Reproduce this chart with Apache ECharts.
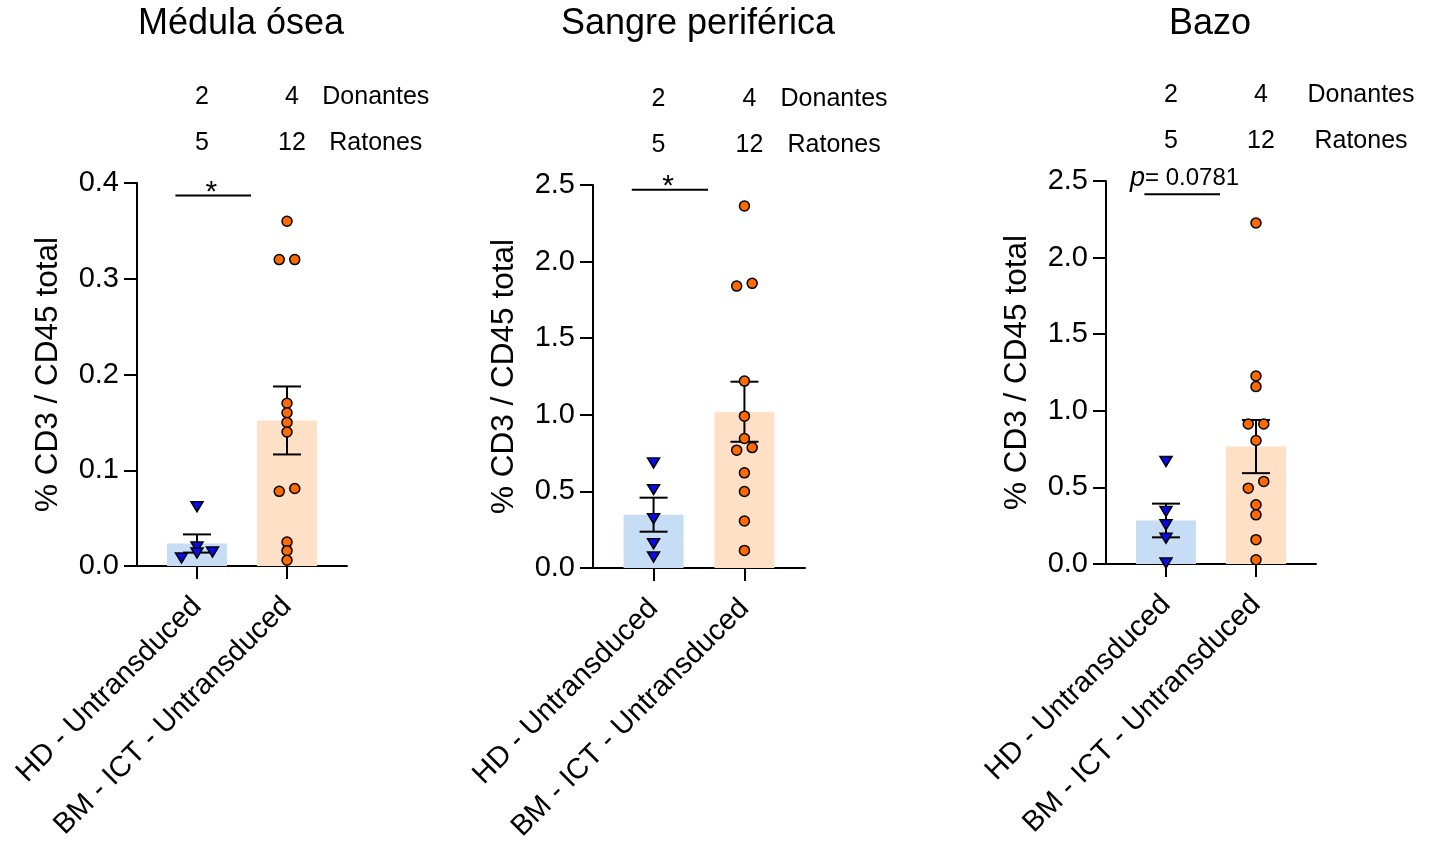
<!DOCTYPE html>
<html><head><meta charset="utf-8">
<script src="https://cdn.jsdelivr.net/npm/echarts@6/dist/echarts.min.js"></script>
<style>html,body{margin:0;padding:0;background:#fff}#c{width:1432px;height:843px}</style>
</head><body><div id="c"></div>
<script>
// ---------- data ----------
const categories = ['HD - Untransduced', 'BM - ICT - Untransduced'];
const panelTitles = ['Médula ósea', 'Sangre periférica', 'Bazo'];
const donantes = [[2, 4], [2, 4], [2, 4]];
const ratones = [[5, 12], [5, 12], [5, 12]];
const rowLabels = ['Donantes', 'Ratones'];
const yMax = [0.4, 2.5, 2.5];
const yInterval = [0.1, 0.5, 0.5];
const yAxisName = '% CD3 / CD45 total';

const hdMedula = [0.062, 0.0198, 0.0146, 0.0136, 0.0084];
const bmMedula = [0.360, 0.320, 0.320, 0.170, 0.160, 0.150, 0.140, 0.081, 0.078, 0.025, 0.016, 0.006];
const hdSangre = [0.686, 0.512, 0.322, 0.159, 0.072];
const bmSangre = [2.363, 1.858, 1.840, 1.220, 0.991, 0.845, 0.786, 0.769, 0.621, 0.499, 0.307, 0.115];
const hdBazo = [0.669, 0.343, 0.256, 0.169, 0.0065];
const bmBazo = [2.226, 1.227, 1.158, 0.914, 0.914, 0.806, 0.539, 0.495, 0.387, 0.321, 0.159, 0.028];

const meanMedula = [0.0235, 0.152];
const semMedula = [0.0095, 0.0355];
const meanSangre = [0.348, 1.020];
const semSangre = [0.111, 0.196];
const meanBazo = [0.284, 0.7665];
const semBazo = [0.110, 0.1735];

const sigLabels = ['*', '*', '0.0781'];
const sigLevel = [0.387, 2.469, 2.414];

// ---------- layout / style ----------
const FONT = "'Liberation Sans', Arial, Helvetica, sans-serif";
const panels = [
  { left: 137, top: 183, width: 210, height: 383, rowX: 3.98, titleX: 241 },
  { left: 593, top: 185, width: 212, height: 383, rowX: 3.98, titleX: 698 },
  { left: 1106, top: 181, width: 210, height: 383, rowX: 4.25, titleX: 1210 }
];
const catPos = [1, 2.5];           // x position of each category on the 0..3.5 axis
const barColors = ['#c7dcf5', '#fde0c5'];
const hdSets = [hdMedula, hdSangre, hdBazo];
const bmSets = [bmMedula, bmSangre, bmBazo];
const means = [meanMedula, meanSangre, meanBazo];
const sems = [semMedula, semSangre, semBazo];

// simple row-based beeswarm: points closer than D px vertically share a row
function swarm(values, pxPerUnit) {
  const D = 8, step = 15.5;
  const idx = values.map((v, i) => i).sort((a, b) => values[a] - values[b]);
  const rows = [];
  idx.forEach(i => {
    const r = rows[rows.length - 1];
    if (r && (values[i] - values[r[0]]) * pxPerUnit < D) r.push(i);
    else rows.push([i]);
  });
  const off = new Array(values.length).fill(0);
  rows.forEach(r => r.forEach((i, k) => { off[i] = (k - (r.length - 1) / 2) * step; }));
  return off;
}

const grids = [], xAxes = [], yAxes = [], series = [];
panels.forEach((p, g) => {
  grids.push({ left: p.left, top: p.top, width: p.width, height: p.height, containLabel: false, outerBoundsMode: 'none' });
  xAxes.push({
    gridIndex: g, type: 'value', min: 0, max: 3.5,
    splitLine: { show: false },
    axisLine: { show: true, onZero: false, lineStyle: { color: '#000', width: 2 } },
    axisTick: { show: true, customValues: catPos, length: 13, lineStyle: { color: '#000', width: 2 } },
    axisLabel: {
      show: true, customValues: catPos, rotate: 45, margin: 36,
      fontSize: 29, fontFamily: FONT, color: '#000',
      formatter: v => categories[catPos.indexOf(v)] || ''
    }
  });
  yAxes.push({
    gridIndex: g, type: 'value', min: 0, max: yMax[g], interval: yInterval[g],
    name: yAxisName, nameLocation: 'middle', nameGap: 73,
    nameTextStyle: { fontSize: 31.5, fontFamily: FONT, color: '#000' },
    splitLine: { show: false },
    axisLine: { show: true, lineStyle: { color: '#000', width: 2 } },
    axisTick: { show: true, length: 13, lineStyle: { color: '#000', width: 2 } },
    axisLabel: { fontSize: 29, fontFamily: FONT, color: '#000', margin: 18, formatter: v => v.toFixed(1) }
  });
  // bars (mean)
  series.push({
    type: 'bar', xAxisIndex: g, yAxisIndex: g, barWidth: 60, z: 2,
    data: catPos.map((x, i) => ({ value: [x, means[g][i]], itemStyle: { color: barColors[i] } })),
    silent: true
  });
  // error bars (SEM)
  series.push({
    type: 'custom', xAxisIndex: g, yAxisIndex: g, z: 3, silent: true,
    data: catPos.map((x, i) => [x, means[g][i], sems[g][i]]),
    encode: { x: 0, y: 1 },
    renderItem: (params, api) => {
      const x = api.value(0), m = api.value(1), s = api.value(2);
      const t = api.coord([x, m + s]), b = api.coord([x, m - s]);
      const c = 14, st = { stroke: '#000', lineWidth: 2 };
      return { type: 'group', children: [
        { type: 'line', shape: { x1: t[0], y1: t[1], x2: b[0], y2: b[1] }, style: st },
        { type: 'line', shape: { x1: t[0] - c, y1: t[1], x2: t[0] + c, y2: t[1] }, style: st },
        { type: 'line', shape: { x1: b[0] - c, y1: b[1], x2: b[0] + c, y2: b[1] }, style: st }
      ] };
    }
  });
  const ppu = p.height / yMax[g];
  const hdOff = swarm(hdSets[g], ppu);
  const bmOff = swarm(bmSets[g], ppu);
  series.push({
    type: 'scatter', xAxisIndex: g, yAxisIndex: g, z: 5, silent: true,
    symbol: 'triangle', symbolRotate: 180, symbolSize: [12, 10],
    itemStyle: { color: '#0a0af0', borderColor: '#000', borderWidth: 1.5, opacity: 1 },
    data: hdSets[g].map((v, i) => ({ value: [catPos[0], v], symbolOffset: [hdOff[i], 0] }))
  });
  series.push({
    type: 'scatter', xAxisIndex: g, yAxisIndex: g, z: 5, silent: true,
    symbol: 'circle', symbolSize: 10,
    itemStyle: { color: '#ff6a00', borderColor: '#000', borderWidth: 1.5, opacity: 1 },
    data: bmSets[g].map((v, i) => ({ value: [catPos[1], v], symbolOffset: [bmOff[i], 0] }))
  });
});

const chart = echarts.init(document.getElementById('c'), null, { renderer: 'canvas' });
chart.setOption({
  animation: false, backgroundColor: '#fff',
  grid: grids, xAxis: xAxes, yAxis: yAxes, series: series
});

// annotations positioned through the axes
const graphics = [];
panels.forEach((p, g) => {
  const px = (x, y) => chart.convertToPixel({ gridIndex: g }, [x, y]);
  graphics.push({ type: 'text', x: p.titleX, y: 24,
    style: { text: panelTitles[g], font: '36px ' + FONT, fill: '#000', textAlign: 'center', textVerticalAlign: 'middle' } });
  // Donantes / Ratones rows
  [donantes[g], ratones[g]].forEach((row, r) => {
    const yy = p.top - (r === 0 ? 86 : 40);
    row.forEach((n, i) => {
      const cx = px(catPos[i], 0)[0] + 5;
      graphics.push({ type: 'text', x: cx, y: yy,
        style: { text: String(n), font: '25px ' + FONT, fill: '#000', textAlign: 'center', textVerticalAlign: 'middle' } });
    });
    graphics.push({ type: 'text', x: px(p.rowX, 0)[0], y: yy,
      style: { text: rowLabels[r], font: '25px ' + FONT, fill: '#000', textAlign: 'center', textVerticalAlign: 'middle' } });
  });
  // significance line
  const a = px(0.64, sigLevel[g]), b = px(1.9, sigLevel[g]);
  graphics.push({ type: 'line', shape: { x1: a[0], y1: a[1], x2: b[0], y2: b[1] }, style: { stroke: '#000', lineWidth: 2 } });
  if (sigLabels[g] === '*') {
    const s = px(1.24, sigLevel[g]);
    graphics.push({ type: 'text', x: s[0], y: s[1] - 3,
      style: { text: '*', font: '30px ' + FONT, fill: '#000', textAlign: 'center', textVerticalAlign: 'middle' } });
  } else {
    const s = px(0.4, sigLevel[g]);
    graphics.push({ type: 'text', x: s[0], y: s[1] - 16,
      style: { text: '{i|p}= ' + sigLabels[g], font: '24px ' + FONT, fill: '#000', textAlign: 'left', textVerticalAlign: 'middle',
        rich: { i: { fontStyle: 'italic', fontSize: 27, fontFamily: FONT } } } });
  }
});
chart.setOption({ graphic: graphics });
</script>
</body></html>
